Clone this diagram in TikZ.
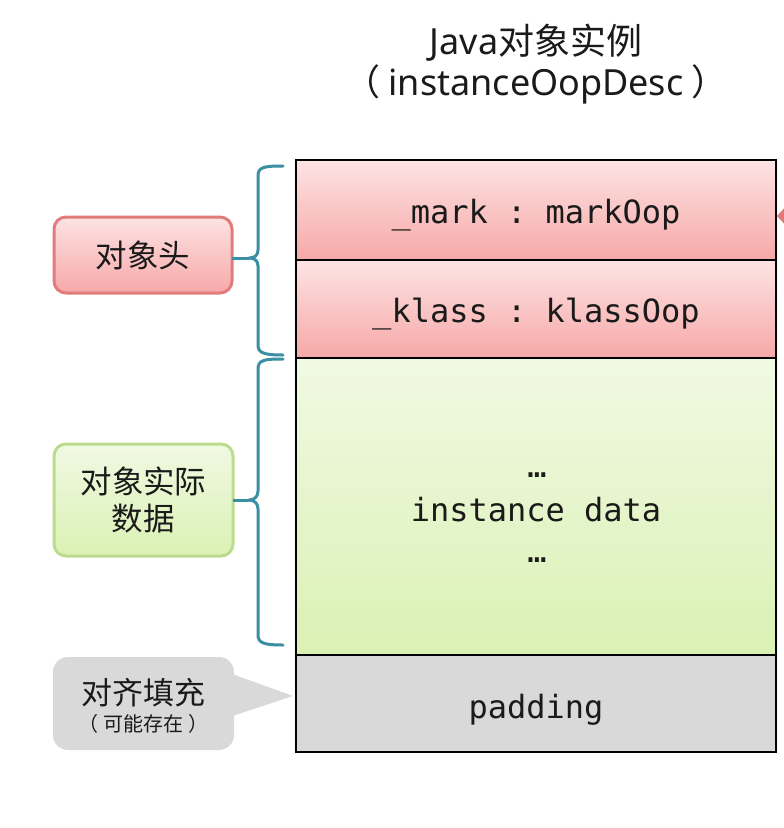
\documentclass[tikz,border=0pt]{standalone}
\usepackage{fontspec}
\setmainfont{Noto Sans}
\setmonofont{DejaVu Sans Mono}
\newfontfamily\cjk{Noto Sans CJK SC}
\definecolor{redtop}{HTML}{FDE3E3}
\definecolor{redbot}{HTML}{F7A8A8}
\definecolor{redline}{HTML}{E07C7C}
\definecolor{greentop}{HTML}{F1F9E3}
\definecolor{greenbot}{HTML}{DAF1B4}
\definecolor{greenline}{HTML}{BCDB8E}
\definecolor{padgray}{HTML}{D9D9D9}
\definecolor{braceteal}{HTML}{3B8FA2}
\definecolor{ink}{HTML}{1A1A1A}
\tikzset{
  rowbox/.style={draw=black, line width=2pt, minimum width=480pt, inner sep=0pt, outer sep=0pt},
  redrow/.style={rowbox, top color=redtop, bottom color=redbot},
  rowtext/.style={font=\ttfamily\fontsize{32}{40}\selectfont, text=ink, inner sep=0pt},
  lab/.style={rounded corners=12pt, line width=3pt, inner sep=0pt, outer sep=0pt, text=ink,
    font=\cjk\fontsize{31.5}{37}\selectfont, align=center},
  bracestyle/.style={draw=braceteal, line width=3pt, line join=round, line cap=round},
}
\begin{document}
\begin{tikzpicture}[x=1pt,y=-1pt]
\useasboundingbox (0,0) rectangle (784,828);

% title
\node[font=\fontsize{36}{41}\selectfont, text=ink, align=center] (title) at (536,64)
  {Java{\cjk 对象实例}\\{\cjk （}\hspace{8pt}instanceOopDesc\hspace{8pt}{\cjk ）}};

% main rows
\node[redrow, minimum height=100pt] (mark) at (536,210) {};
\node[redrow, minimum height=98pt] (klass) at (536,309) {};
\node[rowbox, minimum height=297pt, top color=greentop, bottom color=greenbot] (data) at (536,506.5) {};
\node[rowbox, minimum height=97pt, fill=padgray] (pad) at (536,703.5) {};

\node[rowtext] (markt) at (536,215) {\_mark : markOop};
\node[rowtext] (klasst) at (536,314) {\_klass : klassOop};
\node[rowtext, anchor=base] (dots1) at (537,477) {…};
\node[rowtext] (datat) at (536,510) {instance data};
\node[rowtext, anchor=base] (dots2) at (537,562) {…};
\node[rowtext] (padt) at (536,709.5) {padding};

% cut-off red marker at right edge
\fill[redline] (777,216) coordinate (wedge) -- (788,204) -- (788,228) -- cycle;

% left labels
\node[lab, draw=redline, top color=redtop, bottom color=redbot, minimum width=178pt, minimum height=76pt]
  (hdr) at (143,255) {对象头};
\node[lab, draw=greenline, top color=greentop, bottom color=greenbot, minimum width=179pt, minimum height=112pt]
  (body) at (143.5,500) {对象实际\\数据};
\node[rounded corners=15pt, fill=padgray, minimum width=181pt, minimum height=93pt, inner sep=0pt, outer sep=0pt] (fill) at (143.5,703.5) {};
\node[text=ink, font=\cjk\fontsize{31}{34}\selectfont, inner sep=0pt] (fillt1) at (143.5,693) {对齐填充};
\node[text=ink, font=\cjk\fontsize{20}{24}\selectfont, inner sep=0pt] (fillt2) at (143.5,724) {（\hspace{5pt}可能存在\hspace{5pt}）};
\coordinate (ptip) at (293,696);
\fill[padgray] ([shift={(-6,-31)}]fill.east) -- (ptip) -- ([shift={(-6,14)}]fill.east) -- cycle;

% braces
\path[bracestyle] (283,166) .. controls (264,166) and (258,167) .. (258,176) -- (258,250)
  .. controls (258,255) and (255,258) .. (249,258) coordinate (t1)
  .. controls (255,258) and (258,261) .. (258,266) -- (258,345)
  .. controls (258,353) and (264,355) .. (283,355);
\path[bracestyle] (283,359) .. controls (264,359) and (258,360) .. (258,369) -- (258,491)
  .. controls (258,496) and (255,500) .. (249,500) coordinate (t2)
  .. controls (255,500) and (258,504) .. (258,509) -- (258,635)
  .. controls (258,643) and (264,645) .. (283,645);
\draw[braceteal, line width=3pt] (hdr.east |- t1) -- (t1);
\draw[braceteal, line width=3pt] (body.east |- t2) -- (t2);
\end{tikzpicture}
\end{document}
